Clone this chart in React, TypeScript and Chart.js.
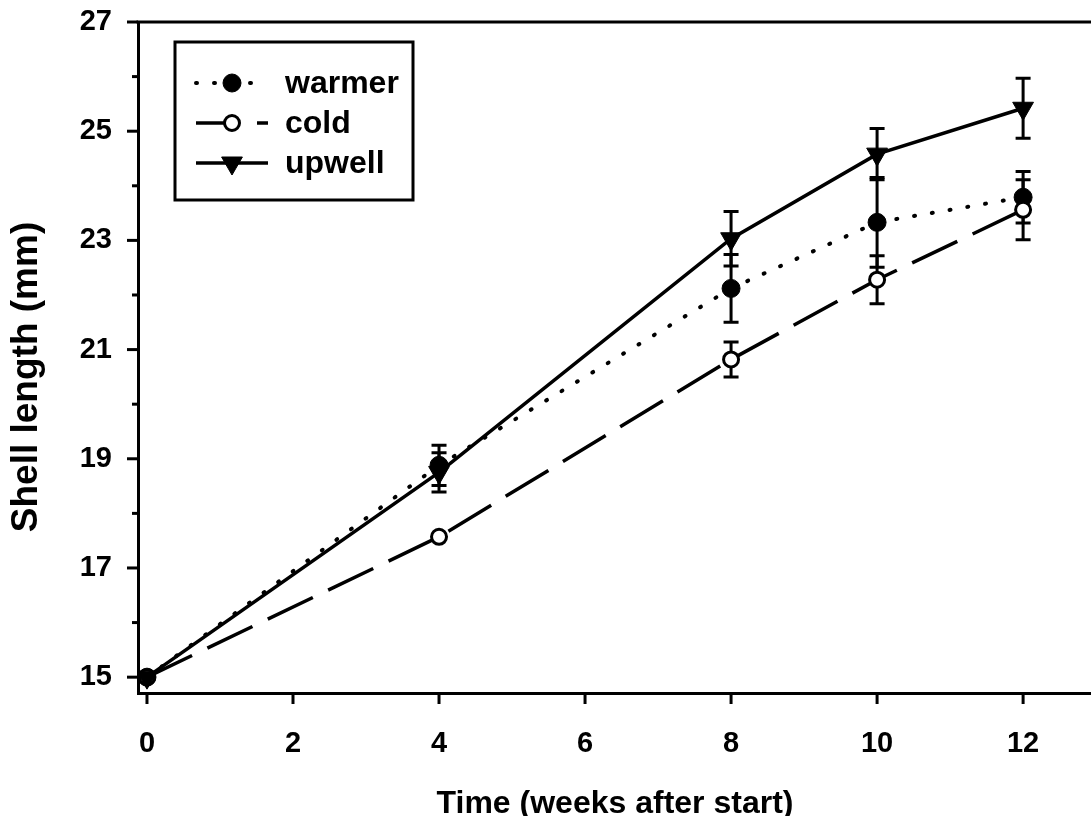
import React, { useEffect, useRef } from 'react';
import { Chart, registerables } from 'chart.js';

Chart.register(...registerables);

const weeks = [0, 4, 8, 10, 12];
const seriesNames = ['warmer', 'cold', 'upwell'];
const warmer = [15, 18.88, 22.12, 23.33, 23.79];
const warmerErr = [0, 0.37, 0.62, 0.82, 0.47];
const cold = [15, 17.57, 20.82, 22.28, 23.56];
const coldErr = [0, 0, 0.32, 0.44, 0.55];
const upwell = [15, 18.75, 23.03, 24.58, 25.42];
const upwellErr = [0, 0.36, 0.5, 0.47, 0.55];
const xTicks = [0, 2, 4, 6, 8, 10, 12];
const yTicks = [15, 17, 19, 21, 23, 25, 27];
const yMinorTicks = [16, 18, 20, 22, 24, 26];
const xTitle = 'Time (weeks after start)';
const yTitle = 'Shell length (mm)';

const FONT = '"Liberation Sans", Arial, Helvetica, sans-serif';

const errs = [warmerErr, coldErr, upwellErr];

function drawMarker(ctx: CanvasRenderingContext2D, style: string, r: number, x: number, y: number, rot: number) {
  ctx.beginPath();
  if (style === 'triangle') {
    ctx.translate(x, y);
    ctx.rotate((rot * Math.PI) / 180);
    ctx.moveTo(0, -r);
    ctx.lineTo(r * 0.866, r * 0.5);
    ctx.lineTo(-r * 0.866, r * 0.5);
    ctx.closePath();
  } else {
    ctx.arc(x, y, r, 0, Math.PI * 2);
  }
  ctx.fill();
  ctx.stroke();
}

const errorBarPlugin = {
  id: 'errorBars',
  beforeDatasetsDraw(chart: any) {
    const ctx = chart.ctx;
    const xs = chart.scales.x;
    const ys = chart.scales.y;
    ctx.save();
    ctx.strokeStyle = '#000';
    ctx.lineWidth = 3;
    chart.data.datasets.forEach((ds: any, i: number) => {
      const e = errs[i];
      ds.data.forEach((p: any, j: number) => {
        if (!e[j]) return;
        const px = xs.getPixelForValue(p.x);
        const top = ys.getPixelForValue(p.y + e[j]);
        const bot = ys.getPixelForValue(p.y - e[j]);
        ctx.beginPath();
        ctx.moveTo(px, top);
        ctx.lineTo(px, bot);
        ctx.moveTo(px - 7.5, top);
        ctx.lineTo(px + 7.5, top);
        ctx.moveTo(px - 7.5, bot);
        ctx.lineTo(px + 7.5, bot);
        ctx.stroke();
      });
    });
    ctx.restore();
  },
};

const framePlugin = {
  id: 'frame',
  afterDraw(chart: any) {
    const ctx = chart.ctx;
    const xs = chart.scales.x;
    const ys = chart.scales.y;
    const area = chart.chartArea;
    ctx.save();
    ctx.strokeStyle = '#000';
    ctx.fillStyle = '#000';
    ctx.lineWidth = 3;
    // top frame line
    ctx.beginPath();
    ctx.moveTo(area.left - 1.5, area.top);
    ctx.lineTo(chart.width, area.top);
    ctx.stroke();
    // y ticks
    yTicks.forEach((v) => {
      const py = ys.getPixelForValue(v);
      ctx.beginPath();
      ctx.moveTo(area.left - 11, py);
      ctx.lineTo(area.left, py);
      ctx.stroke();
    });
    yMinorTicks.forEach((v) => {
      const py = ys.getPixelForValue(v);
      ctx.beginPath();
      ctx.moveTo(area.left - 6, py);
      ctx.lineTo(area.left, py);
      ctx.stroke();
    });
    xTicks.forEach((v) => {
      const px = xs.getPixelForValue(v);
      ctx.beginPath();
      ctx.moveTo(px, area.bottom);
      ctx.lineTo(px, area.bottom + 11);
      ctx.stroke();
    });
    // axis titles
    ctx.font = `bold 32px ${FONT}`;
    ctx.textAlign = 'center';
    ctx.textBaseline = 'alphabetic';
    ctx.fillText(xTitle, 615, 813);
    ctx.save();
    ctx.translate(37, 377);
    ctx.rotate(-Math.PI / 2);
    ctx.font = `bold 37px ${FONT}`;
    ctx.fillText(yTitle, 0, 0);
    ctx.restore();

    // legend
    const lx = 175, ly = 42, lw = 238, lh = 158;
    ctx.fillStyle = '#fff';
    ctx.fillRect(lx, ly, lw, lh);
    ctx.lineWidth = 3;
    ctx.strokeStyle = '#000';
    ctx.strokeRect(lx, ly, lw, lh);
    const rows = [83, 123, 163];
    chart.data.datasets.forEach((ds: any, i: number) => {
      const y = rows[i];
      ctx.save();
      ctx.strokeStyle = '#000';
      ctx.lineWidth = ds.borderWidth;
      ctx.lineCap = ds.borderCapStyle || 'butt';
      ctx.setLineDash(ds.borderDash || []);
      ctx.lineDashOffset = i === 1 ? 6 : 0;
      ctx.beginPath();
      ctx.moveTo(196, y);
      ctx.lineTo(268, y);
      ctx.stroke();
      ctx.restore();
      const meta = chart.getDatasetMeta(i);
      const opts = meta.data[0].options;
      ctx.save();
      ctx.fillStyle = opts.backgroundColor;
      ctx.strokeStyle = opts.borderColor;
      ctx.lineWidth = opts.borderWidth;
      drawMarker(ctx, opts.pointStyle, opts.radius, 232, y, opts.rotation || 0);
      ctx.restore();
      ctx.fillStyle = '#000';
      ctx.font = `bold 32px ${FONT}`;
      ctx.textAlign = 'left';
      ctx.textBaseline = 'middle';
      ctx.fillText(ds.label, 285, y + 1);
    });
    ctx.restore();
  },
};

export default function App() {
  const ref = useRef<HTMLCanvasElement | null>(null);
  useEffect(() => {
    if (!ref.current) return;
    const pts = (ys: number[]) => weeks.map((w, i) => ({ x: w, y: ys[i] }));
    const chart = new Chart(ref.current, {
      type: 'line',
      data: {
        datasets: [
          {
            label: seriesNames[0],
            data: pts(warmer),
            borderColor: '#000',
            borderWidth: 4,
            borderDash: [1, 17],
            borderCapStyle: 'round',
            pointStyle: 'circle',
            pointRadius: 9,
            pointBackgroundColor: '#000',
            pointBorderColor: '#000',
            pointBorderWidth: 1,
            order: 3,
          } as any,
          {
            label: seriesNames[1],
            data: pts(cold),
            borderColor: '#000',
            borderWidth: 3.5,
            borderDash: [50, 17],
            pointStyle: 'circle',
            pointRadius: 7.5,
            pointBackgroundColor: '#fff',
            pointBorderColor: '#000',
            pointBorderWidth: 3,
            order: 2,
          } as any,
          {
            label: seriesNames[2],
            data: pts(upwell),
            borderColor: '#000',
            borderWidth: 3.5,
            pointStyle: 'triangle',
            pointRotation: 180,
            pointRadius: 12,
            pointBackgroundColor: '#000',
            pointBorderColor: '#000',
            pointBorderWidth: 1,
            order: 1,
          } as any,
        ],
      },
      options: {
        responsive: false,
        animation: false,
        devicePixelRatio: 1,
        layout: { autoPadding: false, padding: { top: 22, right: 0, bottom: 0, left: 0 } },
        plugins: { legend: { display: false }, tooltip: { enabled: false } },
        elements: { line: { tension: 0 } },
        scales: {
          x: {
            type: 'linear',
            min: -0.123,
            max: 12.93,
            afterBuildTicks: (s: any) => {
              s.ticks = xTicks.map((v) => ({ value: v }));
            },
            afterFit: (s: any) => {
              s.height = 123;
              s.paddingLeft = 0;
              s.paddingRight = 0;
            },
            grid: { display: false, drawTicks: false },
            border: { display: true, color: '#000', width: 3 },
            ticks: {
              color: '#000',
              padding: 34,
              maxRotation: 0,
              autoSkip: false,
              font: { family: FONT, size: 29, weight: 'bold' },
            },
          },
          y: {
            type: 'linear',
            min: 14.71,
            max: 27,
            afterBuildTicks: (s: any) => {
              s.ticks = yTicks.map((v) => ({ value: v }));
            },
            afterFit: (s: any) => {
              s.width = 138;
              s.paddingTop = 0;
              s.paddingBottom = 0;
            },
            grid: { display: false, drawTicks: false },
            border: { display: true, color: '#000', width: 3 },
            ticks: {
              color: '#000',
              padding: 26,
              autoSkip: false,
              font: { family: FONT, size: 29, weight: 'bold' },
            },
          },
        },
      } as any,
      plugins: [errorBarPlugin, framePlugin],
    });
    return () => chart.destroy();
  }, []);
  return (
    <div style={{ position: 'fixed', left: 0, top: 0, width: 1091, height: 816, background: '#fff' }}>
      <canvas ref={ref} width={1091} height={816} style={{ display: 'block', width: 1091, height: 816 }} />
    </div>
  );
}
